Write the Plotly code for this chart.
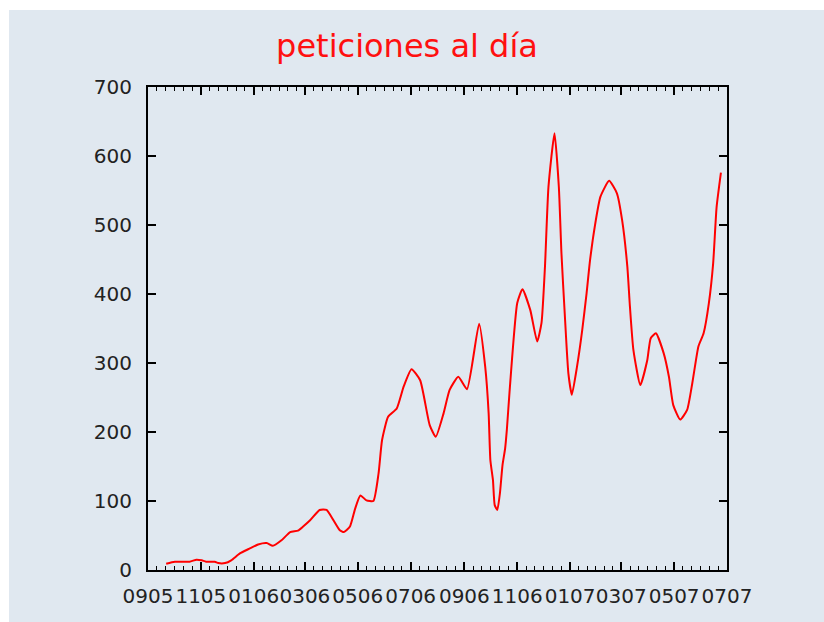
import plotly.graph_objects as go
import pandas as pd

# --- data ---
dates = [
    "2005-09-22", "2005-10-02", "2005-10-19", "2005-10-27", "2005-11-02", "2005-11-07",
    "2005-11-17", "2005-11-21", "2005-11-29", "2005-12-06", "2005-12-16", "2005-12-27",
    "2006-01-06", "2006-01-16", "2006-01-23", "2006-02-02", "2006-02-12", "2006-02-21",
    "2006-02-27", "2006-03-07", "2006-03-18", "2006-03-26", "2006-04-03", "2006-04-10",
    "2006-04-15", "2006-04-22", "2006-04-28", "2006-05-04", "2006-05-11", "2006-05-19",
    "2006-05-25", "2006-05-29", "2006-06-05", "2006-06-15", "2006-06-23", "2006-07-02",
    "2006-07-12", "2006-07-23", "2006-07-30", "2006-08-08", "2006-08-15", "2006-08-25",
    "2006-09-04", "2006-09-18", "2006-09-25", "2006-09-29", "2006-10-01", "2006-10-04",
    "2006-10-06", "2006-10-09", "2006-10-12", "2006-10-15", "2006-10-18", "2006-10-20",
    "2006-10-23", "2006-11-01", "2006-11-07", "2006-11-16", "2006-11-24", "2006-11-29",
    "2006-12-03", "2006-12-07", "2006-12-14", "2006-12-19", "2006-12-22", "2006-12-26",
    "2006-12-30", "2007-01-03", "2007-01-09", "2007-01-15", "2007-01-20", "2007-01-24",
    "2007-01-30", "2007-02-05", "2007-02-15", "2007-02-24", "2007-03-02", "2007-03-08",
    "2007-03-11", "2007-03-15", "2007-03-23", "2007-03-31", "2007-04-04", "2007-04-10",
    "2007-04-19", "2007-04-25", "2007-04-30", "2007-05-08", "2007-05-16", "2007-05-22",
    "2007-05-29", "2007-06-04", "2007-06-10", "2007-06-15", "2007-06-19", "2007-06-24",
]
peticiones = [
    9, 12, 12, 15, 14, 12,
    12, 10, 10, 14, 24, 31,
    37, 39, 35, 43, 55, 57,
    63, 72, 87, 87, 72, 58,
    55, 63, 89, 108, 101, 100,
    140, 188, 222, 234, 266, 291,
    275, 210, 193, 227, 261, 280,
    262, 357, 295, 227, 159, 130,
    94, 87, 111, 152, 176, 203,
    256, 387, 407, 377, 331, 358,
    440, 555, 633, 555, 459, 367,
    285, 254, 295, 348, 401, 449,
    502, 541, 564, 546, 507, 440,
    382, 319, 268, 304, 336, 343,
    314, 280, 239, 218, 232, 271,
    324, 343, 386, 444, 526, 576,
]
tick_dates = ["2005-09-01", "2005-11-01", "2006-01-01", "2006-03-01", "2006-05-01",
              "2006-07-01", "2006-09-01", "2006-11-01", "2007-01-01", "2007-03-01",
              "2007-05-01", "2007-07-01"]
tick_labels = ["0905", "1105", "0106", "0306", "0506", "0706", "0906", "1106",
               "0107", "0307", "0507", "0707"]
y_ticks = [0, 100, 200, 300, 400, 500, 600, 700]

# minor ticks: each two-month interval split into 6 parts
td = pd.to_datetime(tick_dates)
minor_vals = []
for a, b in zip(td[:-1], td[1:]):
    step = (b - a) / 6
    for k in range(1, 6):
        minor_vals.append((a + step * k).strftime("%Y-%m-%d %H:%M:%S"))

BG = "#e0e8f0"
W, H = 824, 622
L, R, T, B = 148, 97, 87, 52
pw, ph = W - L - R, H - T - B

fig = go.Figure()
fig.add_trace(go.Scatter(
    x=dates, y=peticiones, mode="lines",
    line=dict(color="#ff0000", width=2, shape="spline", smoothing=0.5),
    hoverinfo="x+y", showlegend=False,
))

fig.update_layout(
    width=W, height=H,
    margin=dict(l=L, r=R, t=T, b=B, pad=0),
    paper_bgcolor=BG, plot_bgcolor=BG,
    font=dict(family="DejaVu Sans", color="#222222", size=20),
    title=dict(text="peticiones al día", font=dict(family="DejaVu Sans", size=32, color="#ff1010"),
               x=407 / W, xref="container", xanchor="center",
               y=1 - 46 / H, yref="container", yanchor="middle"),
    xaxis=dict(
        type="date", range=[tick_dates[0], tick_dates[-1]],
        tickvals=tick_dates, ticktext=tick_labels, tickangle=0,
        ticks="inside", ticklen=8, tickwidth=1.5, tickcolor="black",
        showline=True, linecolor="black", linewidth=2, mirror="ticks",
        showgrid=False, zeroline=False, ticklabelstandoff=7,
        minor=dict(tickvals=minor_vals, ticks="inside", ticklen=4, tickwidth=1.2,
                   tickcolor="black", showgrid=False),
    ),
    yaxis=dict(
        range=[0, 700], tickvals=y_ticks,
        ticks="inside", ticklen=8, tickwidth=1.5, tickcolor="black",
        showline=True, linecolor="black", linewidth=2, mirror="ticks",
        showgrid=False, zeroline=False, ticklabelstandoff=10,
    ),
    shapes=[
        dict(type="rect", xref="paper", yref="paper", layer="below",
             x0=-L / pw - 0.05, x1=(9 - L) / pw, y0=-B / ph - 0.1, y1=1 + T / ph + 0.1,
             fillcolor="white", line=dict(width=0)),
        dict(type="rect", xref="paper", yref="paper", layer="below",
             x0=-L / pw - 0.1, x1=1 + R / pw + 0.1, y0=1 + (T - 10) / ph, y1=1 + T / ph + 0.1,
             fillcolor="white", line=dict(width=0)),
    ],
)

fig.write_html("out.html", config={"displayModeBar": False},
               post_script="document.body.style.margin='0';document.body.style.overflow='hidden';")
